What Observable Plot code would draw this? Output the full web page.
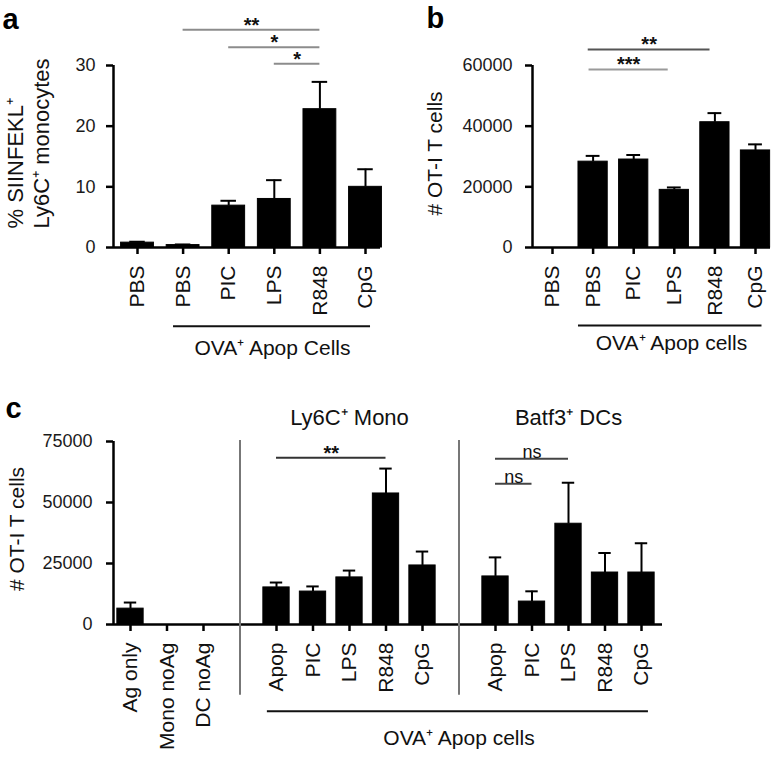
<!DOCTYPE html>
<html>
<head>
<meta charset="utf-8">
<script src="https://cdn.jsdelivr.net/npm/d3@7"></script>
<script src="https://cdn.jsdelivr.net/npm/@observablehq/plot@0.6"></script>
<style>
  html, body { margin: 0; padding: 0; background: #fff; }
  #root { position: relative; width: 779px; height: 763px; overflow: hidden; background: #fff; }
  #root > .panel { position: absolute; }
</style>
</head>
<body>
<div id="root">
  <div class="panel" id="pa" style="left:0;top:0"></div>
  <div class="panel" id="pb" style="left:390px;top:0"></div>
  <div class="panel" id="pc" style="left:0;top:360px"></div>
</div>
<script>
// ---------------- Data: panel a ----------------
const aLabels = ["PBS", "PBS", "PIC", "LPS", "R848", "CpG"];
const aMean   = [0.8, 0.4, 6.9, 8.0, 22.8, 10.0];
const aSem    = [0.15, 0.1, 0.8, 3.1, 4.5, 2.9];
const aTicks  = [0, 10, 20, 30];
const aSigFrom  = [1, 2, 3];
const aSigTo    = [4, 4, 4];
const aSigLabel = ["**", "*", "*"];
const aSigLevel = [35.9, 33.0, 30.3];

// ---------------- Data: panel b ----------------
const bLabels = ["PBS", "PBS", "PIC", "LPS", "R848", "CpG"];
const bMean   = [0, 28300, 29000, 19000, 41300, 32000];
const bSem    = [0, 1900, 1500, 800, 3000, 2000];
const bTicks  = [0, 20000, 40000, 60000];
const bSigFrom  = [0.88, 0.9];
const bSigTo    = [3.88, 2.85];
const bSigLabel = ["**", "***"];
const bSigLevel = [65300, 58700];

// ---------------- Data: panel c ----------------
const cLabels = ["Ag only", "Mono noAg", "DC noAg",
                 "Apop", "PIC", "LPS", "R848", "CpG",
                 "Apop", "PIC", "LPS", "R848", "CpG"];
const cGroup  = [0, 0, 0, 1, 1, 1, 1, 1, 2, 2, 2, 2, 2];
const cMean   = [6500, 0, 0, 15200, 13500, 19300, 53700, 24200, 19700, 9400, 41300, 21300, 21300];
const cSem    = [2500, 0, 0, 2000, 2100, 2800, 10200, 5700, 7800, 4200, 16800, 8000, 12000];
const cTicks  = [0, 25000, 50000, 75000];
const cGroupTitles = ["Ly6C\u207A Mono", "Batf3\u207A DCs"];
const cSigFrom  = [3, 8, 8];
const cSigTo    = [6, 10, 9];
const cSigLabel = ["**", "ns", "ns"];
const cSigLevel = [68300, 67900, 57700];

// ---------------- Shared drawing ----------------
const FONT = "'Liberation Sans', Arial, Helvetica, sans-serif";
const HALF = 0.36;   // half bar width (category units)
const CAP = 0.17;    // half error cap width

function barPanel(cfg) {
  const rows = cfg.labels.map((l, i) => ({
    pos: cfg.pos[i], label: l, mean: cfg.mean[i], sem: cfg.sem[i]
  }));
  const shown = rows.filter(d => d.mean > 0);
  const innerW = cfg.width - cfg.ml - cfg.mr;
  const dom = [-cfg.first / cfg.step, (innerW - cfg.first) / cfg.step];
  const labelAt = new Map(rows.map(d => [d.pos, d.label]));
  const sig = cfg.sigFrom.map((f, i) => ({
    x1: f, x2: cfg.sigTo[i], y: cfg.sigLevel[i], label: cfg.sigLabel[i],
    color: cfg.sigColor[i]
  }));
  const stars = sig.filter(d => d.label.startsWith("*"));
  const words = sig.filter(d => !d.label.startsWith("*"));
  const y0 = cfg.yDomain[0], y1 = cfg.yDomain[1];
  return Plot.plot({
    width: cfg.width,
    height: cfg.height,
    marginLeft: cfg.ml, marginRight: cfg.mr, marginTop: cfg.mt, marginBottom: cfg.mb,
    style: { fontFamily: FONT, fontSize: "18px", color: "#111", background: "#fff", overflow: "visible" },
    x: { type: "linear", domain: dom },
    y: { domain: cfg.yDomain },
    marks: [
      // bars
      Plot.rect(shown, { x1: d => d.pos - HALF, x2: d => d.pos + HALF, y1: 0, y2: "mean", fill: "#000", stroke: "#000", strokeWidth: 1 }),
      // error bars (upper)
      Plot.ruleX(shown, { x: "pos", y1: "mean", y2: d => d.mean + d.sem, stroke: "#000", strokeWidth: 2 }),
      Plot.ruleY(shown, { x1: d => d.pos - CAP, x2: d => d.pos + CAP, y: d => d.mean + d.sem, stroke: "#000", strokeWidth: 2 }),
      // axes lines
      Plot.ruleY([0], { stroke: "#000", strokeWidth: 2.5 }),
      Plot.ruleX([dom[0]], { y1: y0, y2: y1, stroke: "#000", strokeWidth: 2.5 }),
      Plot.axisY({ ticks: cfg.yTicks, tickFormat: d => String(d), tickSize: 7, tickPadding: cfg.yPad,
                   stroke: "#000", strokeWidth: 2.5, fill: "#1a1a1a", fontSize: 18, label: null }),
      Plot.axisX({ ticks: rows.map(d => d.pos), tickFormat: p => labelAt.get(p), tickRotate: -90,
                   tickSize: 7, tickPadding: 11, stroke: "#000", strokeWidth: 2.5, fill: "#111",
                   fontSize: 21, label: null }),
      // significance brackets
      Plot.ruleY(sig, { x1: "x1", x2: "x2", y: "y", stroke: "color", strokeWidth: 2 }),
      Plot.text(stars, { x: d => (d.x1 + d.x2) / 2, y: "y", text: "label", fontSize: 20, fontWeight: "bold",
                         fill: "#111", lineAnchor: "bottom", dy: 2 }),
      Plot.text(words, { x: d => (d.x1 + d.x2) / 2, y: "y", text: "label", fontSize: 18,
                         fill: "#111", lineAnchor: "bottom", dy: -1 }),
      ...(cfg.extra || [])
    ]
  });
}

// ---------------- Panel a ----------------
const pa = barPanel({
  labels: aLabels, pos: aLabels.map((_, i) => i), mean: aMean, sem: aSem,
  width: 390, height: 360, ml: 113, mr: 10, mt: 65, mb: 113,
  first: 24, step: 45.6, yDomain: [0, 30], yTicks: aTicks, yPad: 11,
  sigFrom: aSigFrom, sigTo: aSigTo, sigLabel: aSigLabel, sigLevel: aSigLevel,
  sigColor: ["#8c8c8c", "#8c8c8c", "#8c8c8c"],
  extra: [
    Plot.ruleY([-13.0], { x1: 0.79, x2: 5.11, stroke: "#111", strokeWidth: 2 }),
    Plot.text(["OVA\u207A Apop Cells"], { x: 2.96, y: -16.6, text: d => d, fontSize: 21, fill: "#111" }),
    Plot.text(["% SIINFEKL\u207A\nLy6C\u207A monocytes"], { text: d => d, frameAnchor: "left", rotate: -90,
      textAnchor: "start", lineAnchor: "middle", lineHeight: 1.2, dx: -86, dy: 72, fontSize: 22, fill: "#111" }),
    Plot.text(["a"], { text: d => d, frameAnchor: "top-left", textAnchor: "start", lineAnchor: "middle",
      dx: -111, dy: -46, fontSize: 29, fontWeight: "bold", fill: "#000" })
  ]
});
document.getElementById("pa").appendChild(pa);

// ---------------- Panel b ----------------
const pb = barPanel({
  labels: bLabels, pos: bLabels.map((_, i) => i), mean: bMean, sem: bSem,
  width: 389, height: 360, ml: 142, mr: 9, mt: 65, mb: 113,
  first: 20, step: 40.6, yDomain: [0, 60000], yTicks: bTicks, yPad: 13,
  sigFrom: bSigFrom, sigTo: bSigTo, sigLabel: bSigLabel, sigLevel: bSigLevel,
  sigColor: ["#555", "#9a9a9a"],
  extra: [
    Plot.ruleY([-25700], { x1: 0.64, x2: 5.16, stroke: "#111", strokeWidth: 2 }),
    Plot.text(["OVA\u207A Apop cells"], { x: 2.93, y: -31700, text: d => d, fontSize: 21, fill: "#111" }),
    Plot.text(["# OT-I T cells"], { text: d => d, frameAnchor: "left", rotate: -90,
      textAnchor: "middle", lineAnchor: "middle", dx: -97, dy: -3, fontSize: 21, fill: "#111" }),
    Plot.text(["b"], { text: d => d, frameAnchor: "top-left", textAnchor: "start", lineAnchor: "middle",
      dx: -106, dy: -47, fontSize: 29, fontWeight: "bold", fill: "#000" })
  ]
});
document.getElementById("pb").appendChild(pb);

// ---------------- Panel c ----------------
const cPos = cLabels.map((_, i) => i + cGroup[i]);
const pc = barPanel({
  labels: cLabels, pos: cPos, mean: cMean, sem: cSem,
  width: 779, height: 403, ml: 113, mr: 117, mt: 81, mb: 139,
  first: 17, step: 36.5, yDomain: [0, 75000], yTicks: cTicks, yPad: 14,
  sigFrom: cSigFrom.map(i => cPos[i]), sigTo: cSigTo.map(i => cPos[i]),
  sigLabel: cSigLabel, sigLevel: cSigLevel,
  sigColor: ["#333", "#444", "#444"],
  extra: [
    Plot.ruleX([3, 9], { y1: 75400, y2: -29000, stroke: "#777", strokeWidth: 2 }),
    Plot.text(cGroupTitles, { x: (d, i) => [6, 12][i], y: 84700, text: d => d, fontSize: 22, fill: "#111" }),
    Plot.ruleY([-35600], { x1: 3.75, x2: 14.19, stroke: "#111", strokeWidth: 2 }),
    Plot.text(["OVA\u207A Apop cells"], { x: 9, y: -46700, text: d => d, fontSize: 21, fill: "#111" }),
    Plot.text(["# OT-I T cells"], { text: d => d, frameAnchor: "left", rotate: -90,
      textAnchor: "middle", lineAnchor: "middle", dx: -96, dy: -4, fontSize: 21, fill: "#111" }),
    Plot.text(["c"], { text: d => d, frameAnchor: "top-left", textAnchor: "start", lineAnchor: "middle",
      dx: -108, dy: -33, fontSize: 29, fontWeight: "bold", fill: "#000" })
  ]
});
document.getElementById("pc").appendChild(pc);
</script>
</body>
</html>
